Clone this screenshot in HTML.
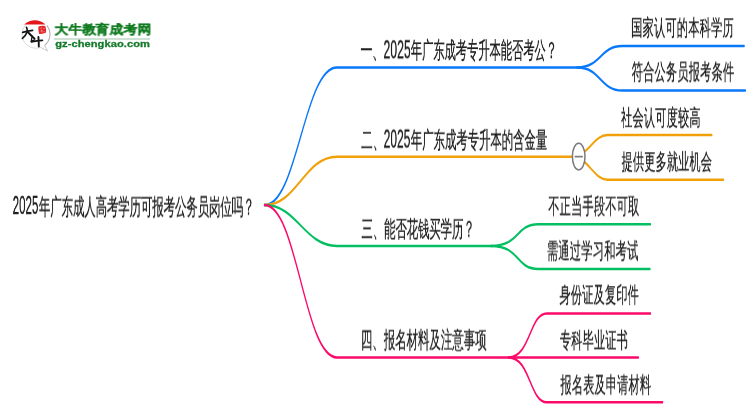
<!DOCTYPE html>
<html><head><meta charset="utf-8">
<style>
html,body{margin:0;padding:0;background:#fff;}
body{width:750px;height:410px;position:relative;overflow:hidden;font-family:"Liberation Sans",sans-serif;}
svg{position:absolute;left:0;top:0;}
.t{position:absolute;left:0;top:0;white-space:nowrap;color:#1e1e1e;font-size:22px;line-height:22px;-webkit-text-stroke:0.3px #1e1e1e;transform-origin:0 0;will-change:transform;}
</style></head><body><div id="w" style="position:absolute;left:0;top:0;width:750px;height:410px;">
<svg width="750" height="410" viewBox="0 0 750 410" fill="none" stroke-linecap="round">
<g transform="scale(0.5,1)">
<g stroke="#0a78fa" stroke-width="2.5"><path d="M529.00 205.1 C595.00 205.1 608.00 67.5 674.00 67.5 L1154.60 67.5"/><path d="M1154.60 67.5 C1201.80 67.5 1200.00 46.0 1244.60 46.0 L1488.40 46.0"/><path d="M1154.60 67.5 C1201.80 67.5 1200.00 90.6 1244.60 90.6 L1490.80 90.6"/></g><g stroke="#f0a10a" stroke-width="2.5"><path d="M529.00 205.1 C595.00 205.1 608.00 156.7 674.00 156.7 L1144.40 156.7"/><path d="M1144.40 156.7 C1176.00 156.7 1187.20 135.0 1215.00 135.0 L1423.60 135.0"/><path d="M1144.40 156.7 C1176.00 156.7 1187.20 179.7 1215.00 179.7 L1447.00 179.7"/></g><g stroke="#04bf62" stroke-width="2.5"><path d="M529.00 205.1 C595.00 205.1 608.00 245.9 674.00 245.9 L982.20 245.9"/><path d="M982.20 245.9 C1040.20 245.9 1030.80 224.3 1076.40 224.3 L1300.80 224.3"/><path d="M982.20 245.9 C1040.20 245.9 1030.80 268.9 1076.40 268.9 L1300.00 268.9"/></g><g stroke="#fc0a6a" stroke-width="2.5"><path d="M529.00 205.1 C595.00 205.1 608.00 357.4 674.00 357.4 L1017.40 357.4"/><path d="M1017.40 357.4 C1060.60 357.4 1059.20 313.4 1093.60 313.4 L1301.00 313.4"/><path d="M1017.40 357.4 L1276.80 357.4"/><path d="M1017.40 357.4 C1060.60 357.4 1059.20 402.3 1093.60 402.3 L1325.20 402.3"/></g>
</g>
<ellipse cx="578.7" cy="156.6" rx="6.3" ry="13.3" fill="#fff" stroke="#7a7a7a" stroke-width="1.5"/>
<line x1="575.2" y1="156.6" x2="582.3" y2="156.6" stroke="#808080" stroke-width="1.6"/>
</svg>
<svg width="750" height="410" viewBox="0 0 750 410" fill="none">
<path d="M44.62 45.33 L47.6 51 L40.79 47.46" fill="#fff" stroke="#c0c0c0" stroke-width="0.8" stroke-linejoin="round"/>
<path d="M25.60 24.93 A14.0 14.0 0 0 0 41.24 47.28" stroke="#d0d0d0" stroke-width="0.8"/>
<path d="M46.72 25.30 A14.0 14.0 0 0 1 44.62 45.33" stroke="#b0b0b0" stroke-width="1.1"/>
  <path d="M24.1 24.4 Q35 16 45.5 24.4 Z" fill="#e3161b"/>
  <path d="M38.4 26.6 Q41.5 25.3 45.2 26 Q46.5 29 46.1 32.6 Q43 34.4 39.2 33.9 Q38 30 38.4 26.6 Z" fill="#e3262a"/>
  <path d="M40.2 28.4 L42.2 27.8 M43.1 28.6 L44.6 28.4 M40.5 31.2 L42.6 30.6 M43.2 32 L44.6 31.3 M41.6 29.6 L41.9 32.6" stroke="#f7b9b9" stroke-width="0.6"/>
  <g stroke="#151515" stroke-linecap="round" fill="none">
    <path d="M22.7 32.4 Q27.5 30.9 32.6 30.4" stroke-width="1.7"/>
    <path d="M26.5 27.3 Q27.6 29.5 27.2 31.8 Q25.8 35.8 22.4 38.4" stroke-width="1.7"/>
    <path d="M27.8 32 Q31 35.5 34.6 38.6" stroke-width="1.9"/>
    <path d="M32.2 36.5 Q31.6 39 31.3 41 L34.7 39.8" stroke-width="1.3"/>
    <path d="M31.3 41.9 Q37 40.8 42.5 40.4" stroke-width="1.6"/>
    <path d="M38.4 37 Q38.8 41.5 38.8 46.6" stroke-width="1.9"/>
  </g>
</svg>
<div style="position:absolute;left:0;top:0;transform-origin:0 0;transform:translate(54.5px,24px) scale(1.06,0.97);font-size:12.6px;line-height:12.6px;font-weight:bold;color:#0f7a1f;-webkit-text-stroke:0.25px #0f7a1f;white-space:nowrap;will-change:transform;">大牛教育成考网</div>
<div style="position:absolute;left:54px;top:38.2px;width:96px;height:1.4px;background:#cfe1d5;"></div>
<div style="position:absolute;left:0;top:0;transform-origin:0 0;transform:translate(55.2px,39.3px) scale(1.135,1);font-size:9.8px;line-height:9.8px;font-weight:bold;color:#157a2a;-webkit-text-stroke:0.3px #157a2a;white-space:nowrap;letter-spacing:0.05px;will-change:transform;">gz-chengkao.com</div>

<div class="t" style="transform:translate(12.68px,192.30px) scale(0.5234,1.2000)">2025</div>
<div class="t" style="transform:translate(38.90px,195.65px) scale(0.5155,1.0330)">年广东成人高考学历可报考公务员岗位吗？</div>
<div class="t" style="transform:translate(383.44px,36.70px) scale(0.5574,1.2000)">2025</div>
<div class="t" style="transform:translate(410.80px,39.09px) scale(0.5111,1.0330)">年广东成考专升本能否考公？</div>
<div class="t" style="transform:translate(383.66px,126.00px) scale(0.5447,1.2000)">2025</div>
<div class="t" style="transform:translate(410.80px,128.85px) scale(0.5167,1.0330)">年广东成考专升本的含金量</div>
<div class="t" style="transform:translate(361.49px,217.84px) scale(0.5140,1.0330)">三、能否花钱买学历？</div>
<div class="t" style="transform:translate(360.85px,328.71px) scale(0.5193,1.0330)">四、报名材料及注意事项</div>
<div class="t" style="transform:translate(631.17px,17.16px) scale(0.5189,1.0170)">国家认可的本科学历</div>
<div class="t" style="transform:translate(631.69px,61.31px) scale(0.5183,1.0170)">符合公务员报考条件</div>
<div class="t" style="transform:translate(621.10px,107.17px) scale(0.5170,1.0170)">社会认可度较高</div>
<div class="t" style="transform:translate(621.60px,151.16px) scale(0.5143,1.0170)">提供更多就业机会</div>
<div class="t" style="transform:translate(548.20px,195.61px) scale(0.5189,1.0170)">不正当手段不可取</div>
<div class="t" style="transform:translate(546.77px,240.36px) scale(0.5219,1.0170)">需通过学习和考试</div>
<div class="t" style="transform:translate(559.49px,284.26px) scale(0.5163,1.0170)">身份证及复印件</div>
<div class="t" style="transform:translate(559.89px,329.76px) scale(0.5161,1.0170)">专科毕业证书</div>
<div class="t" style="transform:translate(560.50px,374.31px) scale(0.5154,1.0170)">报名表及申请材料</div>
<div class="t" style="transform:translate(360.46px,39.09px) scale(0.5362,1.0330)">一、</div>
<div class="t" style="transform:translate(361.19px,128.85px) scale(0.5248,1.0330)">二、</div>
</div></body></html>
